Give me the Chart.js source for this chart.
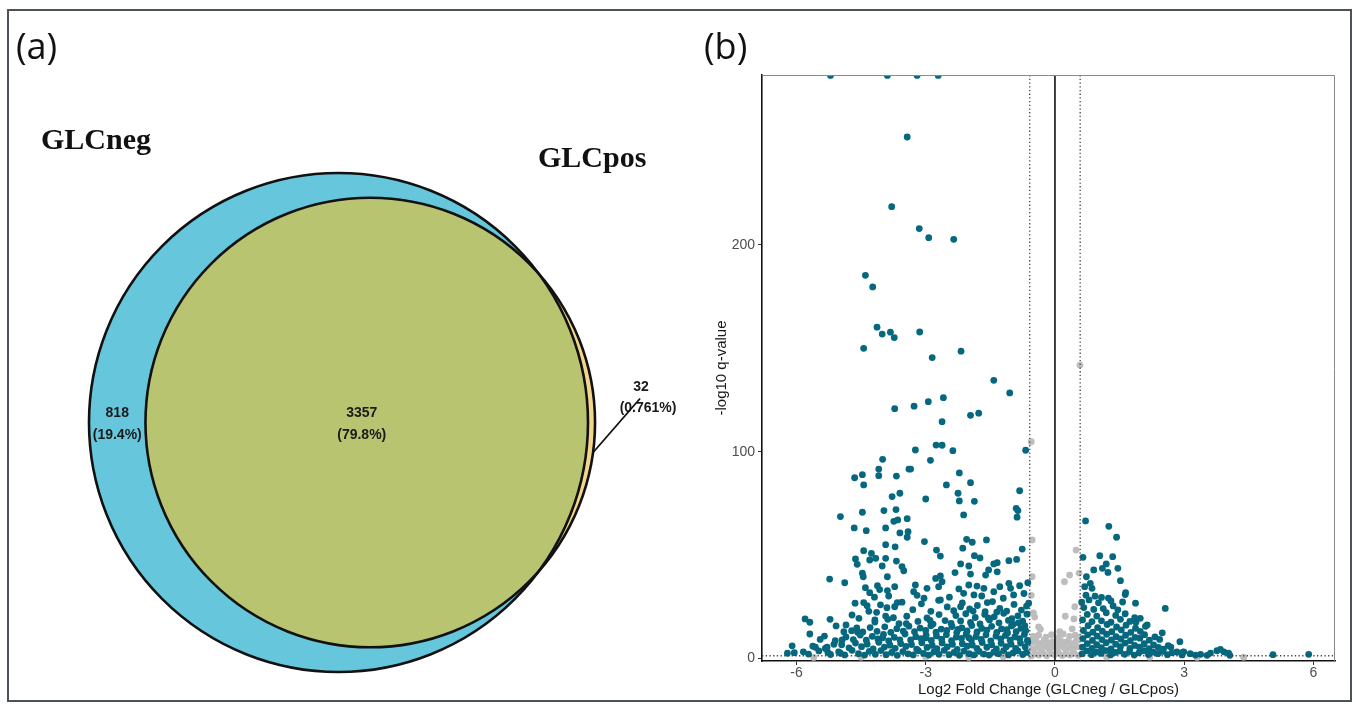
<!DOCTYPE html>
<html><head><meta charset="utf-8">
<script src="https://cdn.jsdelivr.net/npm/chart.js@4.4.1/dist/chart.umd.min.js"></script>
<style>
html,body{margin:0;padding:0;background:#fff;width:1356px;height:710px;overflow:hidden;}
#frame{position:absolute;left:7px;top:9px;width:1341px;height:689px;border:2px solid #4b5259;}
#venn{position:absolute;left:8px;top:12px;width:682px;height:688px;}
#volcano{position:absolute;left:690px;top:12px;width:660px;height:688px;}
.tag{position:absolute;font-family:'Open Sans',sans-serif;font-size:36px;color:#111;line-height:36px;}
</style></head><body>
<div id="frame"></div>
<canvas id="venn" width="682" height="688"></canvas>
<canvas id="volcano" width="660" height="688"></canvas>
<div class="tag" style="left:16px;top:28px">(a)</div>
<div class="tag" style="left:704px;top:28px">(b)</div>
<script>
// ---------------- Venn data ----------------
const vennSets = ['GLCneg', 'GLCpos'];
const vennCounts = [818, 3357, 32];            // GLCneg only, both, GLCpos only
const vennPercents = ['19.4%', '79.8%', '0.761%'];
const vennColors = ['#66c7dc', '#b8c470', '#f3d68b'];

// ---------------- Volcano data ----------------
const xTicks = [-6, -3, 0, 3, 6];
const yTicks = [0, 100, 200];
const fcCut = 0.585;   // |log2 FC| threshold
const qCut = 1.3;      // -log10(0.05)
const xTitle = 'Log2 Fold Change (GLCneg / GLCpos)';
const yTitle = '-log10 q-value';

const sigTop = [[-5.21,282],[-3.89,282],[-3.2,282],[-2.71,282],
[-3.43,252.2],[-3.79,218.5],[-3.15,207.9],[-2.93,203.5],[-2.35,202.7],
[-4.4,185.3],[-4.23,179.7],[-4.13,160.2],[-4.01,156.9],[-3.82,157.8],[-3.73,155.2],[-3.14,157.9],[-4.44,150],[-2.85,145.5],[-2.18,148.6],
[-1.42,134.5],[-1.05,128.4],[-2.59,126.1],[-2.94,124.2],[-3.27,122],[-3.72,120.8],[-1.96,117.6],[-1.77,118.6],[-2.62,114.5],
[-2.76,103.2],[-2.62,103.1],[-3.24,100.8],[-2.37,100.5],[-0.68,100.7]];

const sigMidLeft = [[-4,96.3],[-4.09,91.6],[-4.09,88.4],[-4.65,87.4],[-4.47,88.9],[-4.44,83.9],[-3.68,88.2],[-3.39,91.6],[-3.6,79.9],[-3.78,78.3],
[-4.98,68.6],[-4.47,70.7],[-3.97,71.5],[-3.69,72],[-3.65,67],[-3.74,66.3],[-4.66,63.1],[-4.38,61.8],[-3.93,63.1],[-3.6,60.7],[-3.43,58.6],
[-3.93,55],[-3.71,54],[-4.44,52.1],[-4.26,50.8],[-4.16,48.4],[-3.93,48.4],[-4.63,48.1],[-4.59,45.5],[-4.3,47.6],[-3.68,47.1],[-4.01,44.7],[-3.55,44.4],[-3.51,42.4],
[-5.23,38.4],[-4.88,36.6],[-4.47,41.2],[-4.45,39.5],[-3.89,39.5],[-4.4,34.2],[-4.12,35.2],[-4.07,33.3],[-3.72,34.7],[-3.89,32.8],[-4.3,31.8],[-4.19,29.6],[-3.86,30.2],
[-4.64,26.7],[-4.44,27],[-4.36,25.5],[-3.66,27],[-3.72,25],[-4.71,21],[-4.14,22.3],[-3.93,20.5],
[-5.8,19.1],[-5.69,17.5],[-5.22,18.9],[-5.08,15.7],[-4.18,18.6],[-5.69,11.8],[-6.1,6.1],[-5.84,3.2],[-6.21,2.5],[-5.56,5.4],[-5.29,5.4],[-5.27,2.9],[-5.13,6.8],[-4.94,8.9],[-4.98,2.5],[-4.9,12.9],[-4.58,12.6]];

const sigMid = [[-2.89,95.8],[-3.35,91.6],[-2.22,89.7],[-1.96,85],[-2.52,83.9],[-2.25,79.9],[-2.22,76.2],[-1.87,76],[-3,77.1],[-0.82,81.1],[-0.9,72.6],[-0.86,71.5],[-0.88,68.3],[-2.12,69.4],[-3.43,67.6],[-3.41,61.3],[-3.03,56.5],[-2.05,57.6],[-1.92,56.2],[-1.59,57.3],[-2.14,53.3],[-2.75,52.4],[-2.66,49.5],[-1.87,49.7],[-1.74,48.6],[-0.76,52.9],[-0.89,47.9],[-1.07,47.3],[-1.34,46.3],[-1.42,45.7],[-2.19,45.7],[-2,44.7],[-2.32,41.5],[-1.96,40.8],[-1.54,42.8],[-1.61,40.3],[-1.34,41.9],[-2.77,38.7],[-2.66,39.9],[-2.62,37.1],[-2.7,34.7],[-3.24,35.5],[-3.28,32.3],[-2.97,33.9],[-1.81,35],[-1.65,33.9],[-2,35.5],[-2.23,33.6],[-1.28,34.7],[-1.07,36.3],[-1.03,33.9],[-0.82,35.2],[-0.63,36.6],[-1.42,32.3],[-2.12,31.5],[-1.88,30.7],[-0.96,30.7],[-3.04,29.1],[-2.66,28.3],[-1.57,27],[-0.61,26.7],[-2.19,25]];

const sigDenseLeft = [
[-6.05,2.8],[-5.72,2.1],[-5.48,3.6],[-5.21,1.9],[-5.02,3.1],[-4.88,1.7],[-4.71,3.9],[-4.56,2.3],[-4.42,1.6],[-4.31,3.4],[-4.17,2.0],[-4.04,3.8],[-3.92,1.8],[-3.79,2.9],[-3.66,1.5],[-3.53,3.3],[-3.41,2.2],[-3.29,1.7],[-3.17,3.7],[-3.05,2.4],[-2.93,1.6],[-2.81,3.2],[-2.69,2.0],[-2.57,3.9],[-2.46,1.8],[-2.34,2.9],[-2.22,1.5],[-2.11,3.5],[-1.99,2.3],[-1.88,1.7],[-1.76,3.4],[-1.65,2.1],[-1.53,1.6],[-1.42,3.0],[-1.31,2.2],[-1.19,3.8],[-1.08,1.7],[-0.97,2.7],[-0.86,3.6],[-0.75,1.9],[-0.66,2.9],
[-5.62,5.9],[-5.33,4.8],[-4.95,6.6],[-4.78,5.1],[-4.63,7.4],[-4.49,5.7],[-4.36,6.9],[-4.22,4.6],[-4.09,7.8],[-3.96,5.5],[-3.83,6.4],[-3.71,4.9],[-3.58,7.2],[-3.46,5.8],[-3.33,6.7],[-3.21,4.5],[-3.09,7.6],[-2.97,5.3],[-2.85,6.3],[-2.74,4.7],[-2.62,7.5],[-2.5,5.6],[-2.38,6.8],[-2.27,4.4],[-2.15,7.1],[-2.04,5.9],[-1.92,6.5],[-1.81,4.8],[-1.69,7.7],[-1.58,5.4],[-1.47,6.6],[-1.36,4.6],[-1.25,7.3],[-1.13,5.7],[-1.02,6.9],[-0.91,4.9],[-0.8,7.4],[-0.69,5.5],[-0.63,7.9],
[-5.45,9.2],[-5.1,8.6],[-4.85,10.4],[-4.68,9.1],[-4.52,11.3],[-4.38,8.8],[-4.24,10.7],[-4.11,9.4],[-3.98,11.6],[-3.86,8.5],[-3.73,10.2],[-3.6,9.0],[-3.48,11.8],[-3.35,8.9],[-3.23,10.5],[-3.11,9.6],[-2.99,11.2],[-2.87,8.7],[-2.75,10.9],[-2.63,9.3],[-2.52,11.5],[-2.4,8.6],[-2.29,10.3],[-2.17,9.7],[-2.06,11.7],[-1.94,8.9],[-1.83,10.6],[-1.71,9.2],[-1.6,11.4],[-1.49,8.5],[-1.37,10.8],[-1.26,9.5],[-1.15,11.1],[-1.04,8.8],[-0.93,10.4],[-0.82,9.6],[-0.71,11.6],[-0.64,8.7],
[-4.72,13.4],[-4.46,12.8],[-4.29,14.9],[-4.13,13.1],[-3.95,15.3],[-3.81,12.6],[-3.67,14.4],[-3.52,13.2],[-3.39,15.6],[-3.26,12.9],[-3.13,14.7],[-3.0,13.5],[-2.88,15.8],[-2.76,12.7],[-2.64,14.2],[-2.51,13.6],[-2.39,15.4],[-2.28,12.5],[-2.16,14.8],[-2.04,13.3],[-1.93,15.9],[-1.81,12.8],[-1.7,14.5],[-1.58,13.7],[-1.47,15.5],[-1.35,12.6],[-1.24,14.3],[-1.12,13.9],[-1.01,15.7],[-0.9,12.9],[-0.79,14.6],[-0.68,13.4],
[-4.18,17.6],[-3.88,18.9],[-3.62,16.8],[-3.44,20.4],[-3.18,17.9],[-2.97,19.6],[-2.83,16.6],[-2.69,21.2],[-2.55,18.3],[-2.41,16.9],[-2.3,20.7],[-2.19,18.1],[-2.07,21.6],[-1.96,17.4],[-1.85,19.8],[-1.74,16.7],[-1.63,21.3],[-1.52,18.6],[-1.41,20.1],[-1.3,17.2],[-1.19,21.8],[-1.08,18.4],[-0.97,16.5],[-0.86,20.6],[-0.75,18.0],[-0.65,21.4],
[-3.9,24.5],[-3.55,27.2],[-3.3,23.6],[-3.1,26.4],[-2.88,22.8],[-2.7,28.1],[-2.5,24.9],[-2.35,23.1],[-2.15,26.8],[-1.98,23.9],[-1.8,25.6],[-1.62,22.6],[-1.45,27.5],[-1.28,24.2],[-1.12,22.9],[-0.95,26.1],[-0.78,23.4],[-0.66,25.3],
[-4.85,16.2],[-4.55,19.4],[-4.32,22.8],[-4.05,25.9],[-3.75,19.7],[-4.6,14.8],[-5.35,10.8],[-3.2,30.5],[-2.45,29.6],[-1.7,30.2],[-1.2,29.1],[-0.72,31.4],
[-2.9,18.4],[-2.25,14.0],[-1.55,19.6],[-1.0,19.2],[-0.85,17.2],[-1.9,22.9],[-1.35,22.4],[-3.45,16.8],[-4.0,10.0],[-3.0,9.9],[-2.0,10.0],[-1.1,12.3],[-0.7,15.8]];

const sigRight = [[0.71,66.5],[1.25,63.9],[1.43,58.6],[0.65,48.9],[1.04,49.7],[1.34,49.2],[1.19,45.7],[1.1,43.6],[0.9,42.8],[1.23,41.6],[1.46,43.6],[0.73,39.5],[1.52,37.6],[0.69,34.7],[0.82,36.3],[0.86,33.9],[1.64,31.8],[1.63,30.9],[1.87,26.7],[2.56,24.2],[1.98,19.4],[2.14,16.2],[2.49,12.4],[2.9,8.1],[1.88,17.5],[2.32,10.4],[2.69,5.5],[2.83,3.1],[2.97,3.0],
[0.63,2.2],[0.74,3.6],[0.85,1.8],[0.96,3.1],[1.07,2.4],[1.18,3.8],[1.29,1.7],[1.4,2.9],[1.51,3.5],[1.62,2.0],[1.73,3.3],[1.84,1.6],[1.95,2.7],[2.06,3.7],[2.17,1.9],[2.28,3.0],[2.39,2.3],[2.5,3.4],[2.61,1.8],[2.72,2.8],[2.95,1.7],
[0.64,5.5],[0.75,7.2],[0.86,4.8],[0.97,6.6],[1.08,5.2],[1.19,7.6],[1.3,4.6],[1.41,6.9],[1.52,5.7],[1.63,7.4],[1.74,4.9],[1.85,6.3],[1.96,5.4],[2.07,7.1],[2.18,4.7],[2.29,6.5],[2.4,5.3],[2.52,4.5],[2.63,6.2],
[0.65,9.6],[0.76,11.4],[0.87,8.7],[0.98,10.8],[1.09,9.1],[1.2,11.7],[1.31,8.9],[1.42,10.5],[1.53,9.4],[1.64,11.2],[1.75,8.6],[1.86,10.2],[1.97,9.8],[2.08,11.5],[2.19,8.8],[2.43,9.2],
[0.66,13.5],[0.77,15.8],[0.88,12.7],[0.99,14.9],[1.1,13.2],[1.21,16.4],[1.32,12.9],[1.43,15.2],[1.54,13.8],[1.65,16.1],[1.76,12.6],[1.87,14.6],[1.98,13.1],[2.1,15.5],
[0.64,18.6],[0.75,21.3],[0.86,17.8],[0.97,20.5],[1.08,18.2],[1.19,22.1],[1.3,17.5],[1.41,20.8],[1.52,18.9],[1.63,21.6],[1.74,17.9],[1.85,19.7],
[0.67,24.6],[0.79,28.3],[0.9,23.7],[1.01,26.9],[1.12,24.1],[1.24,29.2],[1.35,25.4],[1.46,23.5],[1.57,27.3],[0.72,30.6],[0.93,30.1],[0.62,27.2],[1.08,29.5],[1.3,27.8],
[2.99,3.2],[3.14,2.3],[3.26,1.6],[3.38,2.0],[3.53,1.5],[3.61,2.6],[3.76,3.7],[3.84,4.4],[3.92,3.2],[4.03,2.5],[4.06,1.5],[5.06,1.8],[5.89,2.0]];

const nsPoints = [[-0.55,104.8],[0.58,141.9],[-0.53,57.3],[-0.53,39.5],[-0.5,22.0],[-0.47,20.0],[-0.38,15.3],[0.49,52.4],[0.34,40.3],[0.22,37.1],[0.56,41.3],[0.46,25.0],[0.24,20.4],[0.44,19.1],[-0.34,14.1],[0.11,12.9],[0.4,14.3],[-0.55,30.5],
[-0.55,1.2],[-0.46,2.1],[-0.37,1.6],[-0.28,2.6],[-0.19,1.3],[-0.1,2.4],[-0.01,1.8],[0.08,2.7],[0.17,1.4],[0.26,2.2],[0.35,1.7],[0.44,2.5],[0.54,1.5],
[-0.52,4.6],[-0.42,5.3],[-0.33,4.2],[-0.23,5.8],[-0.14,4.7],[-0.05,5.5],[0.05,4.4],[0.14,5.9],[0.23,4.8],[0.33,5.2],[0.42,4.3],[0.52,5.7],
[-0.54,7.8],[-0.44,8.4],[-0.35,7.2],[-0.25,8.8],[-0.16,7.5],[-0.06,8.1],[0.04,7.3],[0.13,8.6],[0.22,7.7],[0.31,8.3],[0.41,7.1],[0.5,8.7],
[-0.5,10.6],[-0.38,11.2],[-0.21,10.3],[-0.08,11.5],[0.07,10.1],[0.19,11.8],[0.34,10.7],[0.47,11.3],[0.55,10.2],
[-5.6,0.5],[-4.5,0.6],[-3.0,0.7],[-2.0,0.5],[-1.2,0.8],[1.2,0.7],[2.2,0.6],[3.3,0.5],[4.38,0.6]];

const sigPoints = [].concat(sigTop, sigMidLeft, sigMid, sigDenseLeft, sigRight);

// ================= Venn chart =================
const areaNeg = vennCounts[0] + vennCounts[1];
const areaPos = vennCounts[1] + vennCounts[2];
const rNeg = Math.sqrt(areaNeg / Math.PI);
const rPos = Math.sqrt(areaPos / Math.PI);
function lensArea(r1, r2, d) {
  if (d >= r1 + r2) return 0;
  if (d <= Math.abs(r1 - r2)) return Math.PI * Math.min(r1, r2) ** 2;
  const a = r1 * r1 * Math.acos((d * d + r1 * r1 - r2 * r2) / (2 * d * r1));
  const b = r2 * r2 * Math.acos((d * d + r2 * r2 - r1 * r1) / (2 * d * r2));
  const c = 0.5 * Math.sqrt((-d + r1 + r2) * (d + r1 - r2) * (d - r1 + r2) * (d + r1 + r2));
  return a + b - c;
}
let lo = Math.abs(rNeg - rPos) + 1e-9, hi = rNeg + rPos;
for (let i = 0; i < 80; i++) { const m = (lo + hi) / 2; if (lensArea(rNeg, rPos, m) > vennCounts[1]) lo = m; else hi = m; }
const centerDist = (lo + hi) / 2;
const vennCircles = [{ x: 0, y: 0, r: rNeg }, { x: centerDist, y: 0, r: rPos }];

// layout of the venn canvas (pixels)
const VW = 682, VH = 688, VCX = 330.5, VCY = 410.5, NEG_R_PX = 249.5;
const ppu = NEG_R_PX / rNeg;

function circlePx(chart, c) {
  const sx = chart.scales.x, sy = chart.scales.y;
  return { x: sx.getPixelForValue(c.x), y: sy.getPixelForValue(c.y),
           r: Math.abs(sx.getPixelForValue(c.r) - sx.getPixelForValue(0)) };
}

const vennPlugin = {
  id: 'vennDecor',
  afterDatasetsDraw(chart) {
    const ctx = chart.ctx;
    const neg = circlePx(chart, vennCircles[0]);
    const pos = circlePx(chart, vennCircles[1]);
    const disk = (c) => { ctx.beginPath(); ctx.arc(c.x, c.y, c.r, 0, Math.PI * 2); };
    ctx.save();
    disk(neg); ctx.fillStyle = vennColors[0]; ctx.fill();
    disk(pos); ctx.fillStyle = vennColors[2]; ctx.fill();
    ctx.save();
    disk(neg); ctx.clip();
    disk(pos); ctx.fillStyle = vennColors[1]; ctx.fill();
    ctx.restore();
    ctx.strokeStyle = '#111'; ctx.lineWidth = 2.6;
    disk(neg); ctx.stroke();
    disk(pos); ctx.stroke();
    // set names
    ctx.fillStyle = '#111';
    ctx.font = 'bold 30px "Liberation Serif", "Times New Roman", serif';
    ctx.textAlign = 'left'; ctx.textBaseline = 'alphabetic';
    ctx.fillText(vennSets[0], 33, 137);
    ctx.fillText(vennSets[1], 530, 155);
    // region labels
    ctx.font = 'bold 14px "Liberation Sans", Arial, sans-serif';
    ctx.textAlign = 'center'; ctx.textBaseline = 'middle';
    ctx.fillStyle = '#1a1a1a';
    const negL = neg.x - neg.r, posL = pos.x - pos.r, negR = neg.x + neg.r, posR = pos.x + pos.r;
    const cy = neg.y;
    const x1 = (negL + posL) / 2, x2 = (posL + negR) / 2 - 5;
    ctx.fillText(String(vennCounts[0]), x1, cy - 9.5);
    ctx.fillText('(' + vennPercents[0] + ')', x1, cy + 12.5);
    ctx.fillText(String(vennCounts[1]), x2, cy - 9.5);
    ctx.fillText('(' + vennPercents[1] + ')', x2, cy + 12.5);
    ctx.fillText(String(vennCounts[2]), posR + 46, cy - 35);
    ctx.fillText('(' + vennPercents[2] + ')', posR + 53, cy - 14);
    ctx.strokeStyle = '#111'; ctx.lineWidth = 1.8;
    ctx.beginPath(); ctx.moveTo(posR - 2, cy + 30); ctx.lineTo(posR + 45, cy - 24); ctx.stroke();
    ctx.restore();
  }
};

new Chart(document.getElementById('venn'), {
  type: 'scatter',
  data: {
    datasets: vennCircles.map((c, i) => ({ label: vennSets[i], data: [{ x: c.x, y: c.y }], pointRadius: 0, pointHoverRadius: 0 }))
  },
  options: {
    responsive: false, animation: false, events: [],
    layout: { padding: 0 },
    plugins: { legend: { display: false }, tooltip: { enabled: false } },
    scales: {
      x: { type: 'linear', display: false, min: -VCX / ppu, max: (VW - VCX) / ppu },
      y: { type: 'linear', display: false, min: -(VH - VCY) / ppu, max: VCY / ppu }
    }
  },
  plugins: [vennPlugin]
});

// ================= Volcano chart =================
const X_MIN = -6.8, X_MAX = 6.5, Y_MIN = -1.25, Y_MAX = 282.2;
const FONT = '"Liberation Sans", Arial, sans-serif';
const panelBorder = {
  id: 'panelBorder',
  afterDraw(chart) {
    const { ctx, chartArea: a } = chart;
    ctx.save();
    ctx.strokeStyle = '#8a8a8a'; ctx.lineWidth = 1;
    ctx.beginPath();
    ctx.moveTo(a.left, a.top + 0.5); ctx.lineTo(a.right - 0.5, a.top + 0.5); ctx.lineTo(a.right - 0.5, a.bottom);
    ctx.stroke();
    ctx.restore();
  }
};
const vline = (x, color, dash, w) => ({
  type: 'line', data: [{ x: x, y: Y_MIN }, { x: x, y: Y_MAX }], borderColor: color, borderWidth: w,
  borderDash: dash, pointRadius: 0, fill: false, tension: 0, clip: 0
});
new Chart(document.getElementById('volcano'), {
  type: 'scatter',
  data: {
    datasets: [
      vline(-fcCut, '#444', [1.3, 2.4], 1.3),
      vline(fcCut, '#444', [1.3, 2.4], 1.3),
      { type: 'line', data: [{ x: X_MIN, y: qCut }, { x: X_MAX, y: qCut }], borderColor: '#444', borderWidth: 1.3,
        borderDash: [1.3, 2.4], pointRadius: 0, fill: false, clip: 0 },
      vline(0, '#111', [], 1.6),
      { label: 'sig', data: sigPoints.map(p => ({ x: p[0], y: p[1] })), backgroundColor: '#05687e',
        pointRadius: 3.4, pointBorderWidth: 0, pointHoverRadius: 3.4, clip: 0 },
      { label: 'ns', data: nsPoints.map(p => ({ x: p[0], y: p[1] })), backgroundColor: '#bdbdbd',
        pointRadius: 3.4, pointBorderWidth: 0, pointHoverRadius: 3.4, clip: 0 }
    ]
  },
  options: {
    responsive: false, animation: false, events: [],
    layout: { padding: { left: 0, right: 15, top: 63, bottom: 0 } },
    plugins: { legend: { display: false }, tooltip: { enabled: false } },
    scales: {
      x: {
        type: 'linear', min: X_MIN, max: X_MAX,
        afterBuildTicks: s => { s.ticks = xTicks.map(v => ({ value: v })); },
        afterFit: s => { s.height = 39; },
        grid: { display: true, drawOnChartArea: false, drawTicks: true, tickLength: 4, color: '#333', lineWidth: 1 },
        border: { display: true, color: '#111', width: 1.6 },
        ticks: { font: { family: FONT, size: 14 }, color: '#4d4d4d', padding: 0, maxRotation: 0, autoSkip: false, callback: v => String(v) },
        title: { display: true, text: xTitle, font: { family: FONT, size: 15 }, color: '#1a1a1a', padding: { top: 0, bottom: 1 } }
      },
      y: {
        type: 'linear', min: Y_MIN, max: Y_MAX,
        afterBuildTicks: s => { s.ticks = yTicks.map(v => ({ value: v })); },
        afterFit: s => { s.width = 72; },
        grid: { display: true, drawOnChartArea: false, drawTicks: true, tickLength: 4, color: '#333', lineWidth: 1 },
        border: { display: true, color: '#111', width: 1.6 },
        ticks: { font: { family: FONT, size: 14 }, color: '#4d4d4d', padding: 3, autoSkip: false, callback: v => String(v) },
        title: { display: true, text: yTitle, font: { family: FONT, size: 15 }, color: '#1a1a1a', padding: { top: 23, bottom: 0 } }
      }
    }
  },
  plugins: [panelBorder]
});
</script>
</body></html>
